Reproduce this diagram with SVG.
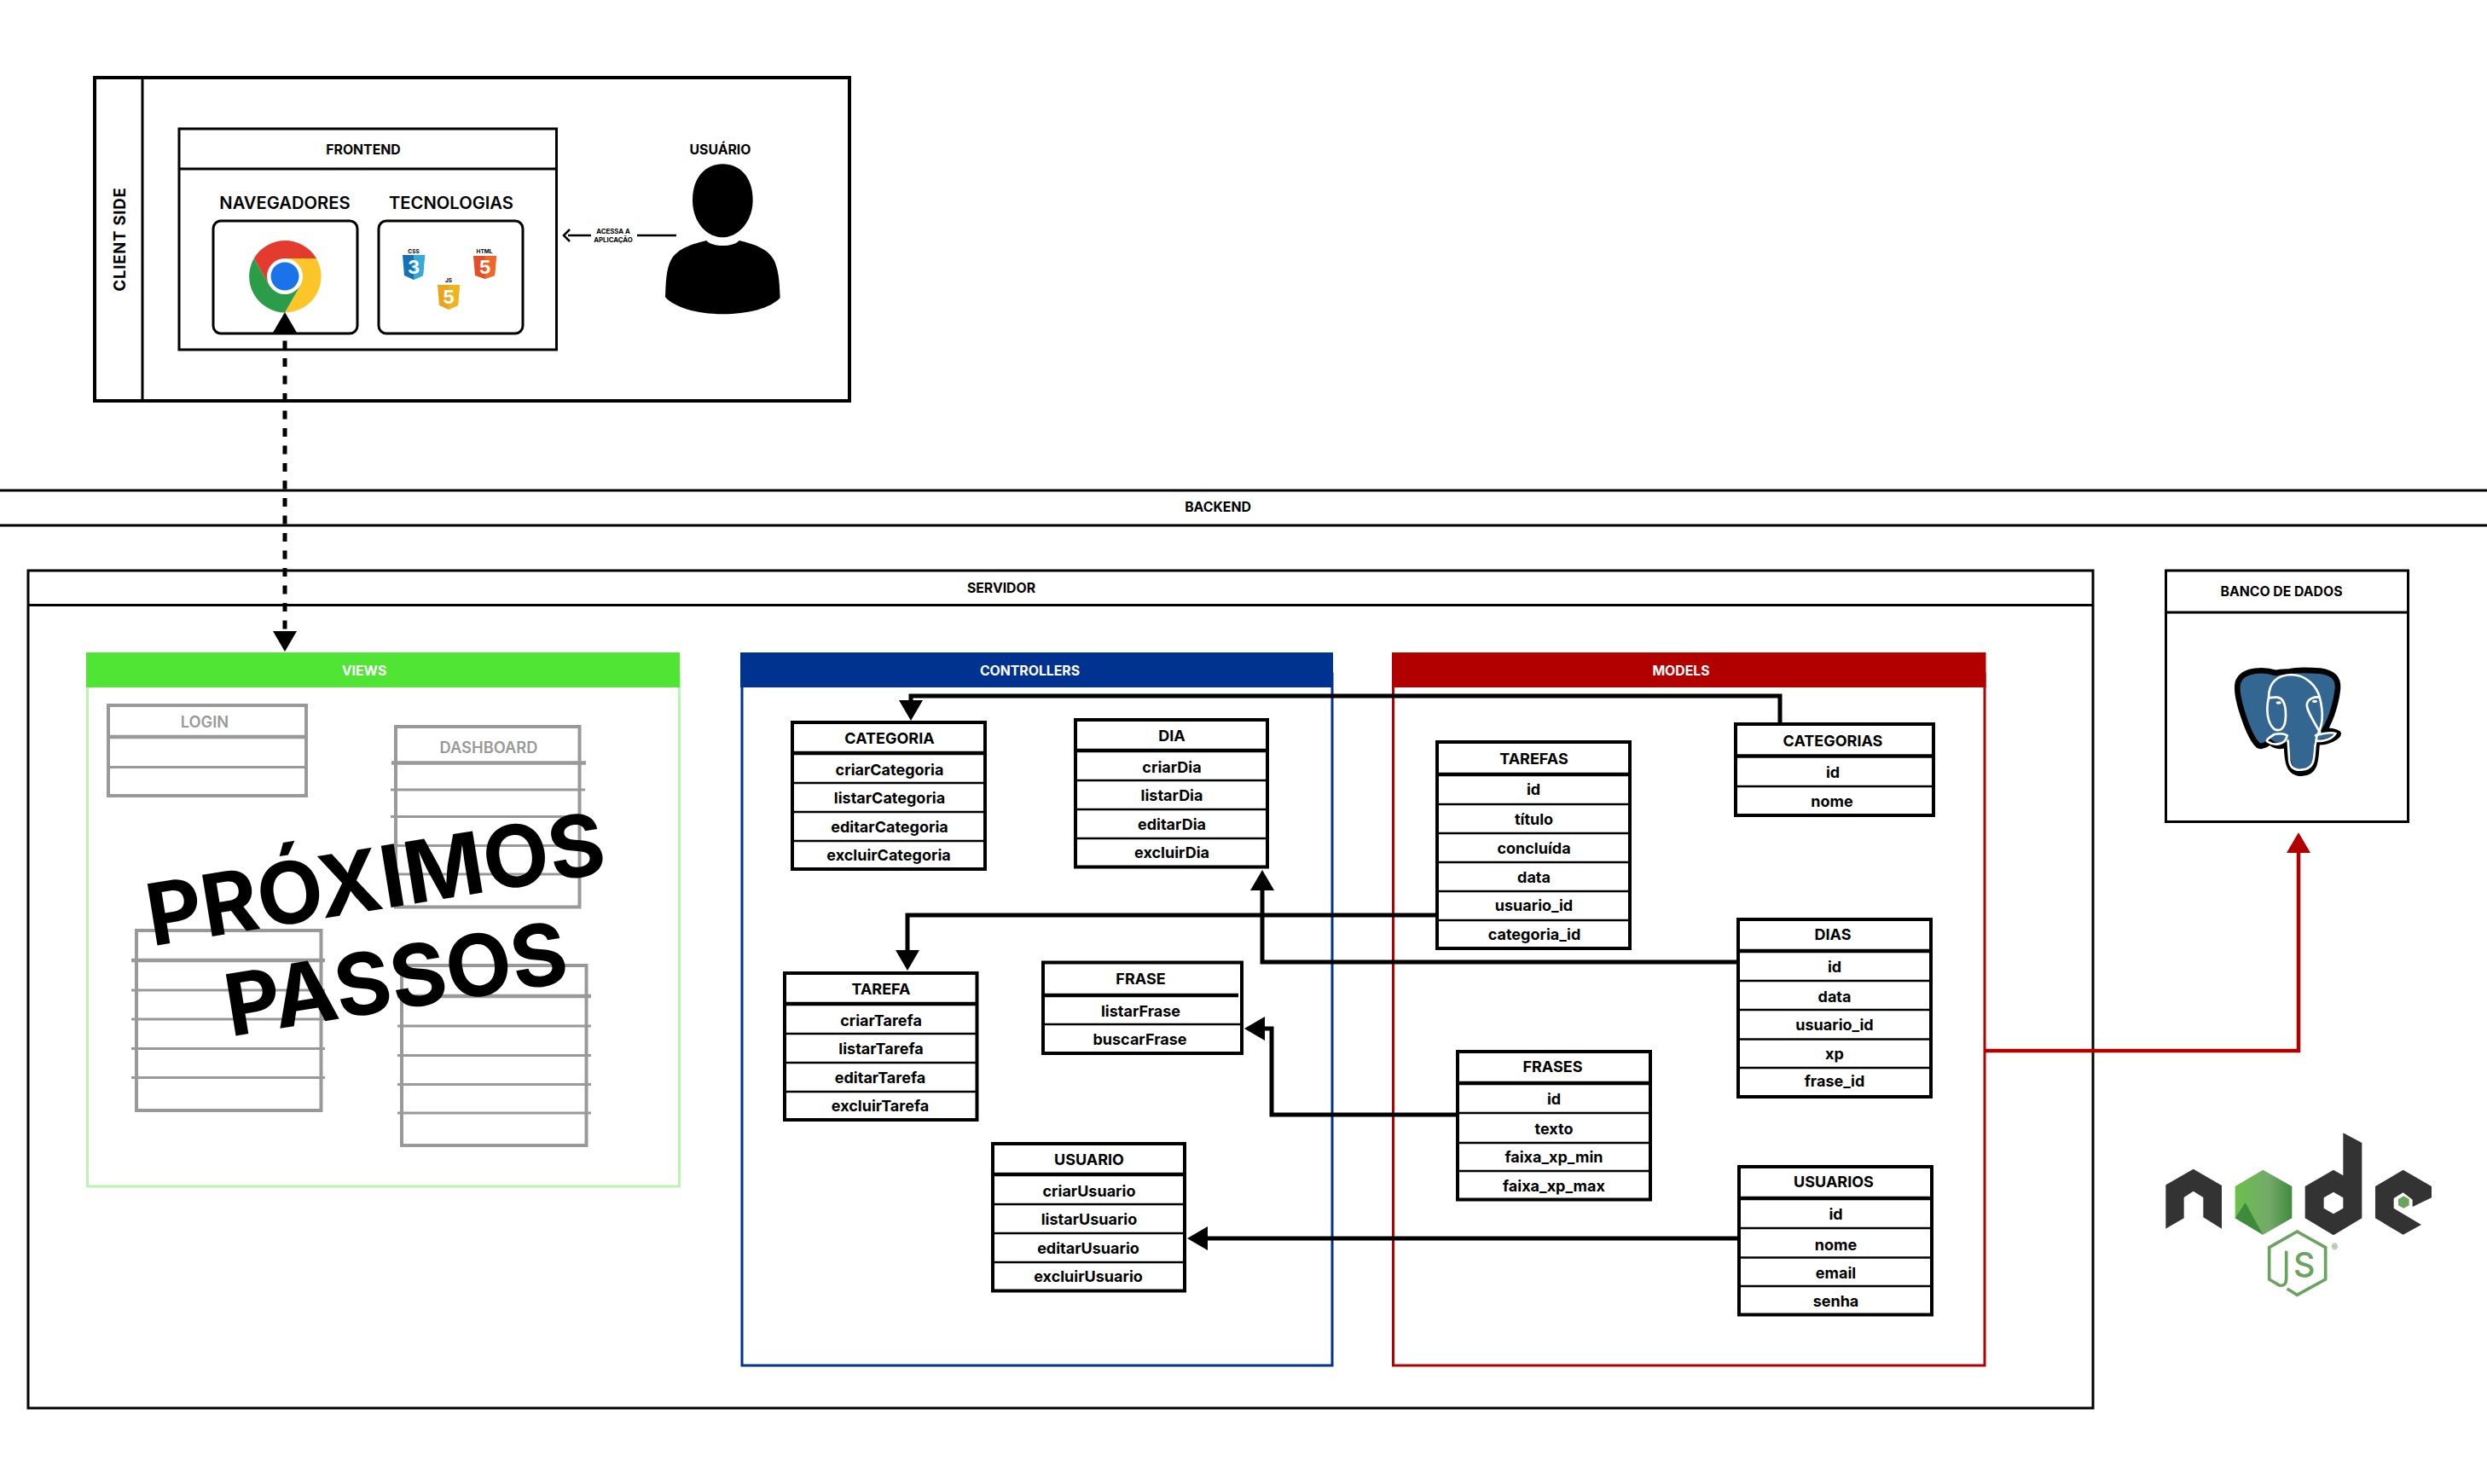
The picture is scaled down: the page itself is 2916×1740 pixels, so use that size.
<svg xmlns="http://www.w3.org/2000/svg" width="2916" height="1740" viewBox="0 0 2916 1740">
<style>
text{font-family:"Inter","Liberation Sans",sans-serif;text-anchor:middle;dominant-baseline:central;fill:#000;font-weight:700}
.frame{fill:none;stroke:#000;stroke-width:3}
.hl{stroke:#000;stroke-width:3;fill:none}
.tb{fill:#fff;stroke:#000;stroke-width:4}
.hd{stroke:#000;stroke-width:4.500}
.rw{stroke:#000;stroke-width:2.600}
.th{font-size:18px;font-weight:700}
.tr{font-size:18px;font-weight:700}
.sec{font-size:15.800px;font-weight:700}
.gb{fill:none;stroke:#999;stroke-width:4}
.gl{stroke:#999;stroke-width:3}
.gh{stroke:#999;stroke-width:4.500}
.big{font-size:100.500px;font-weight:700}
.conn{fill:none;stroke:#000;stroke-width:5}
</style>
<defs>
<marker id="ah" markerUnits="userSpaceOnUse" markerWidth="30" markerHeight="30" viewBox="0 0 30 30" refX="0" refY="15" orient="auto-start-reverse"><polygon points="0,1 24,15 0,29" fill="#000"/></marker>
<marker id="ar" markerUnits="userSpaceOnUse" markerWidth="30" markerHeight="30" viewBox="0 0 30 30" refX="0" refY="15" orient="auto"><polygon points="0,1 24,15 0,29" fill="#b20000"/></marker>
<linearGradient id="ng" x1="0" x2="1" y1="0" y2="0"><stop offset="0" stop-color="#6cc04a"/><stop offset=".6" stop-color="#74a96a"/><stop offset="1" stop-color="#3f8b3d"/></linearGradient>
</defs>

<g id="client-side">
<rect fill="none" stroke="#000" stroke-width="4" x="111" y="91" width="885" height="379"/>
<line class="hl" x1="167" y1="91" x2="167" y2="470"/>
<text transform="translate(140 280.500) rotate(-90)" style="font-size:18.500px;letter-spacing:.8px">CLIENT SIDE</text>
</g>
<g id="frontend">
<rect class="frame" x="210" y="151" width="442.500" height="259"/>
<line class="frame" x1="210" y1="198" x2="652.500" y2="198"/>
<text x="426" y="175" class="sec">FRONTEND</text>
<text x="334" y="237" style="font-size:20.200px;font-weight:600">NAVEGADORES</text>
<text x="529" y="237" style="font-size:20.200px;font-weight:600">TECNOLOGIAS</text>
</g>
<g id="navegadores">
<rect x="250" y="259" width="169" height="132" rx="9" fill="#fff" stroke="#000" stroke-width="3"/>
<path d="M371 303A42.500 42.500 0 0 0 297.700 303L316 335L334 303Z" fill="#e33b2e"/>
<path d="M371 303A42.500 42.500 0 0 1 334 366.500L352 335L334 303Z" fill="#fcc52a"/>
<path d="M334 366.500A42.500 42.500 0 0 1 297.700 303L316 335L352 335Z" fill="#2a9c4a"/>
<circle cx="334" cy="324" r="21" fill="#fff"/><circle cx="334" cy="324" r="16.500" fill="#1a73e8"/>
</g>
<g id="tecnologias">
<rect x="444" y="259" width="169" height="132" rx="9" fill="#fff" stroke="#000" stroke-width="3"/>
<text x="485" y="295" style="font-size:6.500px">CSS</text>
<path d="M472 299H498L496 323L485 328L474 323Z" fill="#1572b6"/><path d="M485 299H498L496 323L485 328Z" fill="#33a9dc"/>
<text x="485" y="313" style="font-size:22px;fill:#fff">3</text>
<text x="568" y="295" style="font-size:6.500px">HTML</text>
<path d="M555 300H582L580 323L568.500 327L557 323Z" fill="#e44d26"/><path d="M568.500 300H582L580 323L568.500 327Z" fill="#f16529"/>
<text x="568.500" y="313" style="font-size:22px;fill:#fff">5</text>
<text x="526" y="329" style="font-size:6.500px">JS</text>
<path d="M513 334H539L537 358L526 363L515 358Z" fill="#e8a61f"/><path d="M526 334H539L537 358L526 363Z" fill="#f0b41f"/>
<text x="526" y="348" style="font-size:22px;fill:#fff">5</text>
</g>
<g id="usuario">
<text x="844.500" y="175" class="sec">USUÁRIO</text>
<g transform="translate(770 160) scale(.33333)">
<path d="M232 97C290 97 338 140 338 225C338 300 285 355 232 355C175 355 126 300 126 225C126 140 175 97 232 97Z"/>
<path d="M175 366C195 390 270 390 290 366C340 378 395 395 415 440C432 480 432 530 434 568C400 605 320 625 232 625C140 625 60 600 30 565C32 520 32 470 50 435C75 390 130 378 175 366Z"/>
</g>
</g>
<g id="acessa-label">
<text x="719" y="271" style="font-size:7.800px;font-weight:700">ACESSA A</text>
<text x="719" y="281" style="font-size:7.800px;font-weight:700">APLICAÇÃO</text>
</g>

<g id="backend">
<path class="hl" d="M0 575H2916M0 616H2916"/>
<text x="1428" y="594.500" class="sec">BACKEND</text>
</g>
<g id="servidor">
<rect class="frame" x="33" y="669" width="2421" height="982"/>
<line class="hl" x1="33" y1="709.500" x2="2454" y2="709.500"/>
<text x="1174" y="689" class="sec">SERVIDOR</text>
</g>
<g id="banco">
<rect class="frame" x="2539.500" y="669" width="284" height="294.500"/>
<line class="frame" x1="2539.500" y1="718" x2="2823.500" y2="718"/>
<text x="2675" y="693" class="sec">BANCO DE DADOS</text>
<g transform="translate(2610 775) scale(.33333)">
<path d="M175 42C140 30 60 25 42 75C30 120 80 270 115 298C130 305 145 290 155 285C175 305 195 300 213 295C215 340 215 395 265 395C320 395 315 340 320 285C360 290 395 265 395 255C380 245 360 245 345 245C375 200 390 130 393 95C395 55 370 40 330 35C290 32 250 30 225 37C210 38 190 38 175 42Z" fill="#336791" stroke="#000" stroke-width="20" stroke-linejoin="round"/>
<g fill="none" stroke="#fff" stroke-width="8" stroke-linecap="round">
<path d="M150 130C150 80 175 50 230 48C285 50 320 90 330 130C345 190 340 230 320 262L313 300C310 350 310 380 265 383C235 385 222 370 222 340L218 280"/>
<path d="M150 130C140 170 145 220 170 240C190 250 210 240 210 190C210 150 200 130 180 128C165 127 150 130 150 130Z"/>
<path d="M330 250C310 215 280 170 285 150C290 130 315 125 328 128"/>
<path d="M170 258C150 270 140 280 145 283C170 300 210 295 215 262C205 255 185 255 170 258Z"/>
<path d="M315 262C340 255 370 250 385 255C375 275 340 285 318 280"/>
</g>
<ellipse cx="185" cy="147" rx="9" ry="5" fill="#fff"/><ellipse cx="312" cy="142" rx="9" ry="5" fill="#fff"/>
</g>
</g>
<g id="nodejs" transform="translate(2520 1310) scale(.33333)">
<path fill="#333" d="M58 238L155 182L255 240V392L190 352V282L155 260L122 282V355L58 392Z"/>
<path fill="url(#ng)" d="M400 185L502 243V355L400 413L302 355V243Z"/>
<path fill="#3f8b3d" d="M302 355L400 413L338 300Z"/>
<path fill-rule="evenodd" fill="#333" d="M682 55L748 90V355L648 415L548 355V243L648 185L682 205ZM648 263L614 283V320L648 340L682 320V283Z"/>
<path fill="#333" d="M893 185L993 243V283L926 315V290L893 265L860 285V320L957 378L893 413L795 355V243Z"/>
<path fill="#6aa360" d="M895 277L914 288V310L895 320L876 310V288Z"/>
<path fill="none" stroke="#6aa360" stroke-width="11" d="M485 603L520 625L620 570V458L520 402L422 458V570L455 590C478 597 482 582 482 565V470"/>
<text x="545" y="517" style="font-size:118px;font-weight:500;fill:#6aa360">S</text>
<text x="652" y="460" style="font-size:34px;font-weight:500;fill:#6aa360">®</text>
</g>

<g id="views">
<rect x="102.500" y="790" width="694" height="601" fill="none" stroke="#b9f5ae" stroke-width="3"/>
<rect x="101" y="765" width="696" height="41" fill="#50e534"/>
<text x="427" y="786" class="sec" style="fill:#fff">VIEWS</text>
</g>
<g id="view-login">
<rect class="gb" x="127" y="827" width="232" height="106"/>
<line class="gh" x1="127" y1="864" x2="359" y2="864"/><line class="gl" x1="127" y1="899.500" x2="359" y2="899.500"/>
<text x="240" y="846" style="font-size:18.300px;font-weight:600;fill:#999">LOGIN</text>
</g>
<g id="view-dashboard">
<rect class="gb" x="464" y="852" width="215.500" height="211.500"/>
<line class="gh" x1="459" y1="894.500" x2="687" y2="894.500"/>
<path class="gl" d="M458 926H686M458 957.500H686M458 991.500H686M458 1025H686"/>
<text x="573" y="876" style="font-size:18.300px;font-weight:600;fill:#999">DASHBOARD</text>
</g>
<g id="view-3">
<rect class="gb" x="160" y="1091" width="216.500" height="211"/>
<line class="gh" x1="154" y1="1126" x2="381" y2="1126"/>
<path class="gl" d="M154 1161H381M154 1195H381M154 1229.500H381M154 1263.500H381"/>
</g>
<g id="view-4">
<rect class="gb" x="471" y="1132" width="216.500" height="211"/>
<line class="gh" x1="466" y1="1168" x2="693" y2="1168"/>
<path class="gl" d="M466 1203H693M466 1237.500H693M466 1271.500H693M466 1305H693"/>
</g>
<g id="proximos-passos">
<text class="big" transform="translate(440 1030) rotate(-9.200)">PRÓXIMOS</text>
<text class="big" transform="translate(464 1147) rotate(-9.200)">PASSOS</text>
</g>

<g id="controllers">
<rect x="870" y="790" width="692" height="811" fill="none" stroke="#00338f" stroke-width="3"/>
<rect x="868" y="765" width="695" height="41" fill="#00338f"/>
<text x="1207.500" y="786" class="sec" style="fill:#fff">CONTROLLERS</text>
</g>
<g id="models">
<rect x="1633.500" y="790" width="693.500" height="811" fill="none" stroke="#b20000" stroke-width="3"/>
<rect x="1632" y="765" width="696.500" height="41" fill="#b20000"/>
<text x="1971" y="786" class="sec" style="fill:#fff">MODELS</text>
</g>

<g id="ctrl-categoria">
<rect class="tb" x="929" y="847" width="226" height="172"/>
<line class="hd" x1="929" y1="883" x2="1155" y2="883"/>
<path class="rw" d="M929 918H1155M929 952H1155M929 986H1155"/>
<text x="1043" y="865" class="th">CATEGORIA</text><text x="1043" y="902" class="tr">criarCategoria</text><text x="1043" y="935" class="tr">listarCategoria</text><text x="1043" y="969" class="tr">editarCategoria</text><text x="1042" y="1002" class="tr">excluirCategoria</text>
</g>
<g id="ctrl-dia">
<rect class="tb" x="1261" y="844" width="225" height="172.500"/>
<line class="hd" x1="1261" y1="880" x2="1486" y2="880"/>
<path class="rw" d="M1261 915H1486M1261 949H1486M1261 983H1486"/>
<text x="1374" y="862" class="th">DIA</text><text x="1374" y="899" class="tr">criarDia</text><text x="1374" y="932" class="tr">listarDia</text><text x="1374" y="966" class="tr">editarDia</text><text x="1374" y="999" class="tr">excluirDia</text>
</g>
<g id="ctrl-tarefa">
<rect class="tb" x="920" y="1141" width="225.500" height="172"/>
<line class="hd" x1="920" y1="1177" x2="1145.500" y2="1177"/>
<path class="rw" d="M920 1212H1145.500M920 1246H1145.500M920 1280H1145.500"/>
<text x="1033" y="1159" class="th">TAREFA</text><text x="1033" y="1196" class="tr">criarTarefa</text><text x="1033" y="1229" class="tr">listarTarefa</text><text x="1032" y="1263" class="tr">editarTarefa</text><text x="1032" y="1296" class="tr">excluirTarefa</text>
</g>
<g id="ctrl-frase">
<rect class="tb" x="1223" y="1128.500" width="233" height="106.500"/>
<line class="hd" x1="1223" y1="1167" x2="1452" y2="1167"/>
<path class="rw" d="M1223 1201H1456"/>
<text x="1337.500" y="1147" class="th">FRASE</text><text x="1337.500" y="1185" class="tr">listarFrase</text><text x="1336.500" y="1218" class="tr">buscarFrase</text>
</g>
<g id="ctrl-usuario">
<rect class="tb" x="1164" y="1341" width="225" height="172.500"/>
<line class="hd" x1="1164" y1="1377" x2="1389" y2="1377"/>
<path class="rw" d="M1164 1412H1389M1164 1446H1389M1164 1480H1389"/>
<text x="1277" y="1359" class="th">USUARIO</text><text x="1277" y="1396" class="tr">criarUsuario</text><text x="1277" y="1429" class="tr">listarUsuario</text><text x="1276" y="1463" class="tr">editarUsuario</text><text x="1276" y="1496" class="tr">excluirUsuario</text>
</g>

<g id="model-tarefas">
<rect class="tb" x="1685" y="870" width="226" height="242"/>
<line class="hd" x1="1685" y1="908" x2="1911" y2="908"/>
<path class="rw" d="M1685 943H1911M1685 977H1911M1685 1011H1911M1685 1045H1911M1685 1079H1911"/>
<text x="1798.500" y="889" class="th">TAREFAS</text><text x="1798" y="925.500" class="tr">id</text><text x="1798.500" y="960.500" class="tr">título</text><text x="1798.500" y="994.500" class="tr">concluída</text><text x="1798.500" y="1028.500" class="tr">data</text><text x="1798.500" y="1061.500" class="tr">usuario_id</text><text x="1799" y="1095.500" class="tr">categoria_id</text>
</g>
<g id="model-categorias">
<rect class="tb" x="2035" y="849" width="232" height="107"/>
<line class="hd" x1="2035" y1="886.500" x2="2267" y2="886.500"/>
<path class="rw" d="M2035 922H2267"/>
<text x="2149" y="868" class="th">CATEGORIAS</text><text x="2149" y="905.500" class="tr">id</text><text x="2148" y="939" class="tr">nome</text>
</g>
<g id="model-dias">
<rect class="tb" x="2038" y="1078" width="226" height="208"/>
<line class="hd" x1="2038" y1="1115" x2="2264" y2="1115"/>
<path class="rw" d="M2038 1150H2264M2038 1184H2264M2038 1218.500H2264M2038 1252H2264"/>
<text x="2149" y="1095.500" class="th">DIAS</text><text x="2151" y="1133.500" class="tr">id</text><text x="2151" y="1168.500" class="tr">data</text><text x="2151" y="1201.500" class="tr">usuario_id</text><text x="2151" y="1235.500" class="tr">xp</text><text x="2151" y="1267.500" class="tr">frase_id</text>
</g>
<g id="model-frases">
<rect class="tb" x="1709" y="1233" width="226" height="173.500"/>
<line class="hd" x1="1709" y1="1270" x2="1935" y2="1270"/>
<path class="rw" d="M1709 1305H1935M1709 1340H1935M1709 1373H1935"/>
<text x="1820.500" y="1250" class="th">FRASES</text><text x="1822" y="1288.500" class="tr">id</text><text x="1822" y="1323.500" class="tr">texto</text><text x="1822" y="1356.500" class="tr">faixa_xp_min</text><text x="1822" y="1390.500" class="tr">faixa_xp_max</text>
</g>
<g id="model-usuarios">
<rect class="tb" x="2039" y="1368" width="226" height="173.500"/>
<line class="hd" x1="2039" y1="1405" x2="2265" y2="1405"/>
<path class="rw" d="M2039 1440H2265M2039 1474.500H2265M2039 1508H2265"/>
<text x="2150" y="1385.500" class="th">USUARIOS</text><text x="2152.500" y="1423.500" class="tr">id</text><text x="2152.500" y="1459" class="tr">nome</text><text x="2152.500" y="1492" class="tr">email</text><text x="2152.500" y="1525.500" class="tr">senha</text>
</g>

<g id="connectors">
<path fill="none" stroke="#000" stroke-width="2.500" d="M693 276H666"/>
<path fill="none" stroke="#000" stroke-width="2.500" d="M793 276H747"/>
<path fill="none" stroke="#000" stroke-width="2.500" d="M668 269L661 276L668 283"/>
<path fill="none" stroke="#000" stroke-width="5" stroke-dasharray="10 10.500" stroke-dashoffset="11" marker-start="url(#ah)" marker-end="url(#ah)" d="M334 390V740"/>
<path class="conn" marker-end="url(#ah)" d="M2087 849V816H1068V821"/>
<path class="conn" marker-end="url(#ah)" d="M1685 1073H1064V1114"/>
<path class="conn" marker-end="url(#ah)" d="M2038 1128H1480V1044"/>
<path class="conn" marker-end="url(#ah)" d="M1708 1307H1491V1206H1483"/>
<path class="conn" marker-end="url(#ah)" d="M2039 1452H1416"/>
<path fill="none" stroke="#b20000" stroke-width="4.500" marker-end="url(#ar)" d="M2328 1232H2695V1000"/>
</g>
</svg>
